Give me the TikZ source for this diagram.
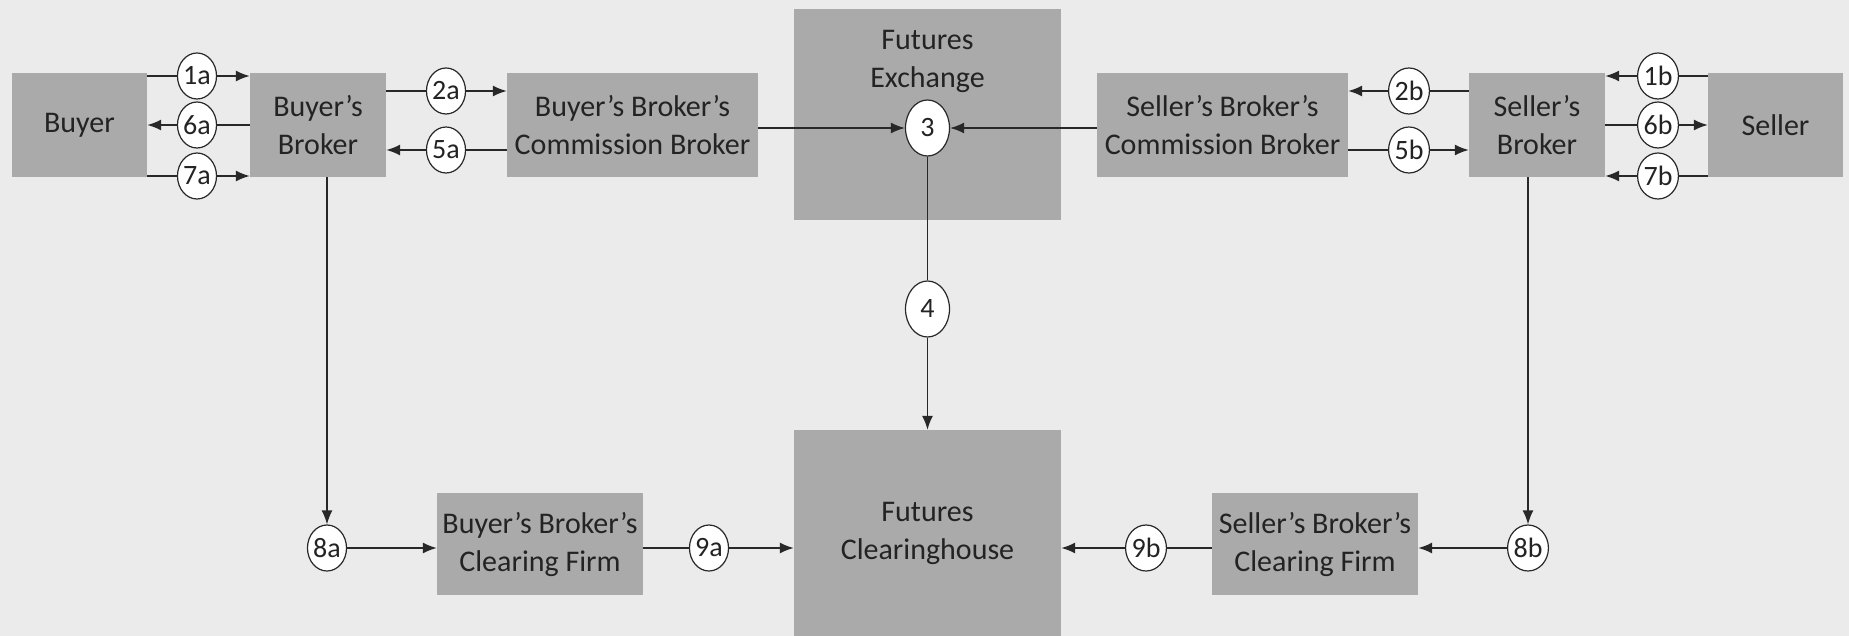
\documentclass[tikz,border=0pt]{standalone}
\usepackage{fontspec}
\setmainfont{Carlito}
\usetikzlibrary{shapes.geometric,arrows.meta}
\definecolor{bgcol}{RGB}{235,235,235}
\definecolor{boxcol}{RGB}{170,170,170}
\definecolor{txtcol}{RGB}{35,35,35}
\definecolor{lncol}{RGB}{40,40,40}
\tikzset{
  box/.style={fill=boxcol, draw=none, inner sep=0pt, align=center, text=txtcol,
    font=\fontsize{30}{38}\selectfont},
  lbl/.style={ellipse, draw=lncol, line width=1.2pt, fill=white, inner sep=0pt,
    minimum width=38pt, minimum height=46pt, text=txtcol,
    font=\fontsize{28}{30}\selectfont},
  biglbl/.style={lbl, minimum width=44pt, minimum height=56pt},
  conn/.style={draw=lncol, line width=1.6pt},
  arr/.style={conn, -{Latex[length=14pt,width=11pt]}}
}
\begin{document}
\begin{tikzpicture}[x=1pt,y=-1pt]
\useasboundingbox (0,0) rectangle (1849,636);
\fill[bgcol] (0,0) rectangle (1849,636);
% boxes
\node[box, minimum width=135pt, minimum height=104pt] (buyer) at (79.5,125) {Buyer};
\node[box, minimum width=136pt, minimum height=104pt] (bb) at (318,125) {Buyer's\\Broker};
\node[box, minimum width=251pt, minimum height=104pt] (bbcb) at (632.5,125) {Buyer's Broker's\\Commission Broker};
\node[box, minimum width=267pt, minimum height=211pt, anchor=north] (fe) at (927.5,9) {};
\node[box, anchor=center] (fetext) at (927.5,61) {Futures\\Exchange};
\node[box, minimum width=251pt, minimum height=104pt] (sbcb) at (1222.5,125) {Seller's Broker's\\Commission Broker};
\node[box, minimum width=136pt, minimum height=104pt] (sb) at (1537,125) {Seller's\\Broker};
\node[box, minimum width=135pt, minimum height=104pt] (seller) at (1775.5,125) {Seller};
\node[box, minimum width=267pt, minimum height=206pt] (fch) at (927.5,533) {Futures\\Clearinghouse};
\node[box, minimum width=206pt, minimum height=102pt] (bcf) at (540,544) {Buyer's Broker's\\Clearing Firm};
\node[box, minimum width=206pt, minimum height=102pt] (scf) at (1315,544) {Seller's Broker's\\Clearing Firm};
% labels
\node[lbl] (c1a) at (197,76) {1a};
\node[lbl] (c6a) at (197,125) {6a};
\node[lbl] (c7a) at (197,176) {7a};
\node[lbl] (c2a) at (446,91) {2a};
\node[lbl] (c5a) at (446,150) {5a};
\node[biglbl] (c3) at (927.5,128) {3};
\node[biglbl] (c4) at (927.5,309) {4};
\node[lbl] (c2b) at (1409,91) {2b};
\node[lbl] (c5b) at (1409,150) {5b};
\node[lbl] (c1b) at (1658,76) {1b};
\node[lbl] (c6b) at (1658,125) {6b};
\node[lbl] (c7b) at (1658,176) {7b};
\node[lbl] (c8a) at (327,548) {8a};
\node[lbl] (c9a) at (709,548) {9a};
\node[lbl] (c9b) at (1146,548) {9b};
\node[lbl] (c8b) at (1528,548) {8b};
% connectors left
\draw[conn] (buyer.east |- c1a) -- (c1a);
\draw[arr] (c1a) -- (bb.west |- c1a);
\draw[conn] (bb.west |- c6a) -- (c6a);
\draw[arr] (c6a) -- (buyer.east |- c6a);
\draw[conn] (buyer.east |- c7a) -- (c7a);
\draw[arr] (c7a) -- (bb.west |- c7a);
\draw[conn] (bb.east |- c2a) -- (c2a);
\draw[arr] (c2a) -- (bbcb.west |- c2a);
\draw[conn] (bbcb.west |- c5a) -- (c5a);
\draw[arr] (c5a) -- (bb.east |- c5a);
\draw[arr] (bbcb.east |- c3) -- (c3);
% connectors right
\draw[arr] (sbcb.west |- c3) -- (c3);
\draw[conn] (sb.west |- c2b) -- (c2b);
\draw[arr] (c2b) -- (sbcb.east |- c2b);
\draw[conn] (sbcb.east |- c5b) -- (c5b);
\draw[arr] (c5b) -- (sb.west |- c5b);
\draw[conn] (seller.west |- c1b) -- (c1b);
\draw[arr] (c1b) -- (sb.east |- c1b);
\draw[conn] (sb.east |- c6b) -- (c6b);
\draw[arr] (c6b) -- (seller.west |- c6b);
\draw[conn] (seller.west |- c7b) -- (c7b);
\draw[arr] (c7b) -- (sb.east |- c7b);
% center
\draw[conn] (c3) -- (c4);
\draw[arr] (c4) -- (fch.north);
% bottom
\draw[arr] (c8a |- bb.south) -- (c8a);
\draw[arr] (c8a) -- (bcf.west |- c8a);
\draw[conn] (bcf.east |- c9a) -- (c9a);
\draw[arr] (c9a) -- (fch.west |- c9a);
\draw[arr] (c8b |- sb.south) -- (c8b);
\draw[arr] (c8b) -- (scf.east |- c8b);
\draw[conn] (scf.west |- c9b) -- (c9b);
\draw[arr] (c9b) -- (fch.east |- c9b);
\end{tikzpicture}
\end{document}
